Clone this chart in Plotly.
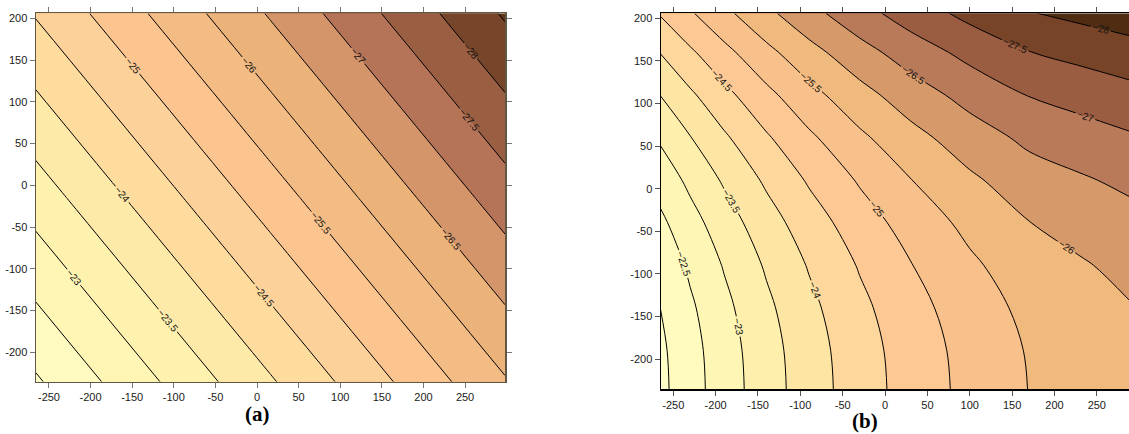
import plotly.graph_objects as go

# ---------------- data: panel (a) ----------------
xa_nodes = [-266, 16, 298]
ya_nodes = [-236, -15, 206]
za_rows = [
    [-21.931, -23.942, -25.952],
    [-23.235, -25.246, -27.256],
    [-24.539, -26.549, -28.560],
]
levels_a = dict(start=-28.5, end=-22.0, size=0.5)
colors_a = ["#5e3418", "#774529", "#9a5e42", "#b57458", "#d4956b", "#ebb27a",
            "#f3bc84", "#fcc590", "#fdd29a", "#fddc9e", "#feeaa8", "#fef2ae",
            "#fff6b6", "#fffabf", "#ffffc9"]

# ---------------- data: panel (b) ----------------
xb_nodes = [-265, -230, -190, -140, -90, -30, 30, 100, 170, 230, 288]
yb_nodes = [-236, -190, -140, -90, -40, 10, 60, 110, 160, 206]
zb_rows = [
    [-21.880, -22.298, -22.750, -23.276, -23.755, -24.262, -24.705, -25.144, -25.509, -25.689, -25.860],
    [-21.908, -22.326, -22.777, -23.303, -23.782, -24.289, -24.731, -25.170, -25.535, -25.714, -25.885],
    [-22.004, -22.421, -22.872, -23.397, -23.875, -24.381, -24.822, -25.260, -25.623, -25.802, -25.972],
    [-22.168, -22.584, -23.034, -23.558, -24.034, -24.538, -24.979, -25.414, -25.776, -25.953, -26.121],
    [-22.401, -22.816, -23.264, -23.786, -24.260, -24.762, -25.200, -25.632, -25.991, -26.166, -26.332],
    [-22.702, -23.116, -23.562, -24.081, -24.553, -25.051, -25.486, -25.915, -26.270, -26.442, -26.604],
    [-23.072, -23.483, -23.927, -24.443, -24.912, -25.406, -25.837, -26.261, -26.612, -26.780, -26.939],
    [-23.511, -23.919, -24.359, -24.872, -25.337, -25.827, -26.254, -26.672, -27.018, -27.182, -27.336],
    [-24.018, -24.423, -24.859, -25.368, -25.829, -26.314, -26.735, -27.147, -27.487, -27.646, -27.795],
    [-24.544, -24.947, -25.379, -25.884, -26.340, -26.819, -27.235, -27.641, -27.975, -28.128, -28.272],
]
levels_b = dict(start=-28.0, end=-22.0, size=0.5)
colors_b = ["#4f2c12", "#784428", "#9b5d42", "#b97a5a", "#d69a6a", "#f0b97e",
            "#f8c08a", "#fdc893", "#fdd79c", "#fde6a4", "#fef0ac", "#fef6b5",
            "#fffbbf", "#ffffc8"]

x_ticks = [-250, -200, -150, -100, -50, 0, 50, 100, 150, 200, 250]
x_ticktext = ["-250", "-200", "-150", "-100", "-50", "0", "50", "100", "150", "200", "250"]
y_ticks = [-200, -150, -100, -50, 0, 50, 100, 150, 200]
y_ticktext = ["-200", "-150", "-100", "-50", "0", "50", "100", "150", "200"]
panel_labels = ["(a)", "(b)"]


def band_scale(lv, colors):
    # one flat colour per band: band k (k=0 below start) is sampled at k/nc
    nc = int(round((lv["end"] - lv["start"]) / lv["size"])) + 1
    return [[i / nc, colors[i]] for i in range(nc + 1)]


label_font = dict(family="Liberation Sans, Arial, sans-serif", size=10, color="#111")

fig = go.Figure()
fig.add_trace(go.Contour(
    x=xa_nodes, y=ya_nodes, z=za_rows, xaxis="x", yaxis="y",
    autocontour=False, contours=dict(**levels_a, coloring="fill", showlabels=True,
                                     labelfont=label_font, labelformat=".4~g"),
    colorscale=band_scale(levels_a, colors_a), showscale=False,
    line=dict(color="black", width=1, smoothing=0), hoverinfo="skip"))
fig.add_trace(go.Contour(
    x=xb_nodes, y=yb_nodes, z=zb_rows, xaxis="x2", yaxis="y2",
    autocontour=False, contours=dict(**levels_b, coloring="fill", showlabels=True,
                                     labelfont=label_font, labelformat=".4~g"),
    colorscale=band_scale(levels_b, colors_b), showscale=False,
    line=dict(color="black", width=1, smoothing=1), hoverinfo="skip"))

W, H = 1129, 434
tickfont = dict(family="Liberation Sans, Arial, sans-serif", size=11, color="#1a1a1a")
common = dict(showgrid=False, zeroline=False, ticks="outside", ticklen=5,
              tickfont=tickfont, showline=True, linewidth=1.5)

fig.update_layout(
    width=W, height=H, margin=dict(l=0, r=0, t=0, b=0),
    paper_bgcolor="white", plot_bgcolor="white", showlegend=False,
    xaxis=dict(domain=[36 / W, 505 / W], range=[-265.6, 298], anchor="y",
               tickvals=x_ticks, ticktext=x_ticktext, mirror="ticks",
               linecolor="#605844", tickcolor="#777", **common),
    yaxis=dict(domain=[1 - 381.7 / H, 1 - 13.3 / H], range=[-235.3, 206], anchor="x",
               tickvals=y_ticks, ticktext=y_ticktext, mirror="ticks",
               linecolor="#605844", tickcolor="#777", **common),
    xaxis2=dict(domain=[661 / W, 1.0], range=[-264.5, 288], anchor="y2",
                tickvals=x_ticks, ticktext=x_ticktext, mirror="ticks",
                linecolor="black", tickcolor="#555", **common),
    yaxis2=dict(domain=[1 - 389 / H, 1 - 13.3 / H], range=[-235.2, 205.9], anchor="x2",
                tickvals=y_ticks, ticktext=y_ticktext, mirror=False,
                linecolor="black", tickcolor="#555", **common),
)

serif = dict(family="Liberation Serif, Times New Roman, serif", size=21, color="black")
fig.add_annotation(x=257 / W, y=1 - 414 / H, xref="paper", yref="paper",
                   text="<b>" + panel_labels[0] + "</b>", showarrow=False, font=serif,
                   xanchor="center", yanchor="middle")
fig.add_annotation(x=865 / W, y=1 - 421 / H, xref="paper", yref="paper",
                   text="<b>" + panel_labels[1] + "</b>", showarrow=False, font=serif,
                   xanchor="center", yanchor="middle")

fig.write_html("out.html",
               config={"displayModeBar": False, "staticPlot": True},
               post_script="document.body.style.margin='0px';"
                           "document.body.style.overflow='hidden';")
